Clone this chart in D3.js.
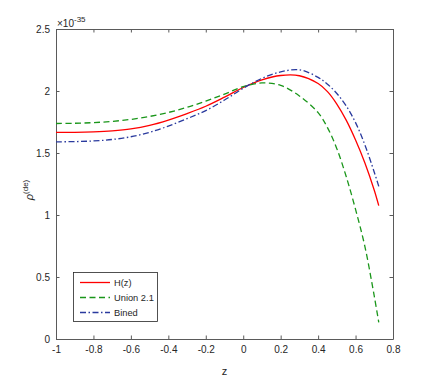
<!DOCTYPE html>
<html>
<head>
<meta charset="utf-8">
<script src="https://cdn.jsdelivr.net/npm/d3@7"></script>
<style>
  body { margin: 0; background: #fff; }
  svg { font-family: "Liberation Sans", Arial, sans-serif; }
</style>
</head>
<body>
<svg id="chart"></svg>
<script>
// datos (rho en unidades de 1e-35)
const zValues = [-1, -0.9, -0.8, -0.7, -0.6, -0.5, -0.4, -0.3, -0.2, -0.1, 0, 0.1, 0.2, 0.3, 0.4, 0.45, 0.5, 0.55, 0.6, 0.65, 0.7, 0.724];
const hzValues = [1.666, 1.667, 1.671, 1.679, 1.694, 1.722, 1.765, 1.818, 1.877, 1.950, 2.028, 2.090, 2.125, 2.123, 2.060, 1.995, 1.895, 1.765, 1.605, 1.420, 1.200, 1.075];
const unionValues = [1.738, 1.740, 1.745, 1.755, 1.771, 1.795, 1.827, 1.868, 1.918, 1.975, 2.035, 2.065, 2.045, 1.960, 1.825, 1.705, 1.535, 1.310, 1.045, 0.745, 0.345, 0.134];
const binedValues = [1.590, 1.592, 1.597, 1.609, 1.631, 1.667, 1.717, 1.777, 1.842, 1.927, 2.022, 2.102, 2.154, 2.171, 2.110, 2.055, 1.980, 1.880, 1.745, 1.565, 1.345, 1.231];

const seriesNames = ["H(z)", "Union 2.1", "Bined"];
const xTicks = [-1, -0.8, -0.6, -0.4, -0.2, 0, 0.2, 0.4, 0.6, 0.8];
const yTicks = [0, 0.5, 1, 1.5, 2, 2.5];

const width = 436;
const height = 382;

const svg = d3.select("#chart")
    .attr("width", width)
    .attr("height", height);

const xScale = d3.scaleLinear().domain([-1, 0.8]).range([56, 393]);
const yScale = d3.scaleLinear().domain([0, 2.5]).range([339, 29]);

const axisColor = "#262626";
const label = d => String(+d.toFixed(1));

// ejes (estilo matlab: caja con ticks hacia dentro)
const xAxis = d3.axisBottom(xScale).tickValues(xTicks).tickSize(-3.5).tickSizeOuter(0).tickPadding(7)
    .tickFormat(label);
const yAxis = d3.axisLeft(yScale).tickValues(yTicks).tickSize(-3.5).tickSizeOuter(0).tickPadding(6)
    .tickFormat(label);

const gx = svg.append("g")
    .attr("transform", `translate(0, ${yScale(0)})`)
    .call(xAxis);
const gy = svg.append("g")
    .attr("transform", `translate(${xScale(-1)}, 0)`)
    .call(yAxis);
const gxTop = svg.append("g")
    .attr("transform", `translate(0, ${yScale(2.5)})`)
    .call(d3.axisTop(xScale).tickValues(xTicks).tickSize(-3.5).tickSizeOuter(0).tickFormat(""));
const gyRight = svg.append("g")
    .attr("transform", `translate(${xScale(0.8)}, 0)`)
    .call(d3.axisRight(yScale).tickValues(yTicks).tickSize(-3.5).tickSizeOuter(0).tickFormat(""));

[gx, gy, gxTop, gyRight].forEach(g => {
    g.select(".domain").attr("stroke", "#5a5a5a").attr("stroke-width", 1);
    g.selectAll(".tick line").attr("stroke", "#5a5a5a");
    g.selectAll(".tick text").attr("fill", axisColor).style("font-size", "10px")
        .style("font-family", "'Liberation Sans', Arial, sans-serif");
});

// curvas
const line = values => d3.line()
    .x((d, i) => xScale(zValues[i]))
    .y(d => yScale(d))
    .curve(d3.curveCatmullRom.alpha(0.5))(values);

const styles = [
    { values: hzValues, color: "#ff0000", dash: null },
    { values: unionValues, color: "#1a961a", dash: "6,3.5" },
    { values: binedValues, color: "#2a3a9e", dash: "6,2.5,1.5,2.5" }
];

styles.forEach(s => {
    svg.append("path")
        .attr("d", line(s.values))
        .attr("fill", "none")
        .attr("stroke", s.color)
        .attr("stroke-width", 1.3)
        .attr("stroke-dasharray", s.dash);
});

// leyenda
const legend = svg.append("g");
legend.append("rect")
    .attr("x", 73.5).attr("y", 272.5)
    .attr("width", 84).attr("height", 49)
    .attr("fill", "#fff")
    .attr("stroke", axisColor)
    .attr("stroke-width", 0.8);
styles.forEach((s, i) => {
    const y = 282.5 + i * 15;
    legend.append("line")
        .attr("x1", 80).attr("x2", 110)
        .attr("y1", y).attr("y2", y)
        .attr("stroke", s.color)
        .attr("stroke-width", 1.3)
        .attr("stroke-dasharray", s.dash);
    legend.append("text")
        .attr("x", 114).attr("y", y + 3.5)
        .attr("fill", axisColor)
        .style("font-size", "9.3px")
        .text(seriesNames[i]);
});

// etiquetas de ejes
svg.append("text")
    .attr("x", xScale(-0.1)).attr("y", 375)
    .attr("text-anchor", "middle")
    .attr("fill", axisColor)
    .style("font-size", "11px")
    .text("z");

const yLabel = svg.append("text")
    .attr("transform", "translate(33, 190) rotate(-90)")
    .attr("text-anchor", "middle")
    .attr("fill", axisColor)
    .style("font-size", "11px");
yLabel.append("tspan").style("font-style", "italic").text("ρ");
yLabel.append("tspan").attr("dy", -5).style("font-size", "8px").text("(de)");

// exponente
const expo = svg.append("text")
    .attr("x", 57).attr("y", 26.5)
    .attr("fill", axisColor)
    .style("font-size", "10px");
expo.append("tspan").text("×10");
expo.append("tspan").attr("dy", -5).style("font-size", "8px").text("-35");
</script>
</body>
</html>
